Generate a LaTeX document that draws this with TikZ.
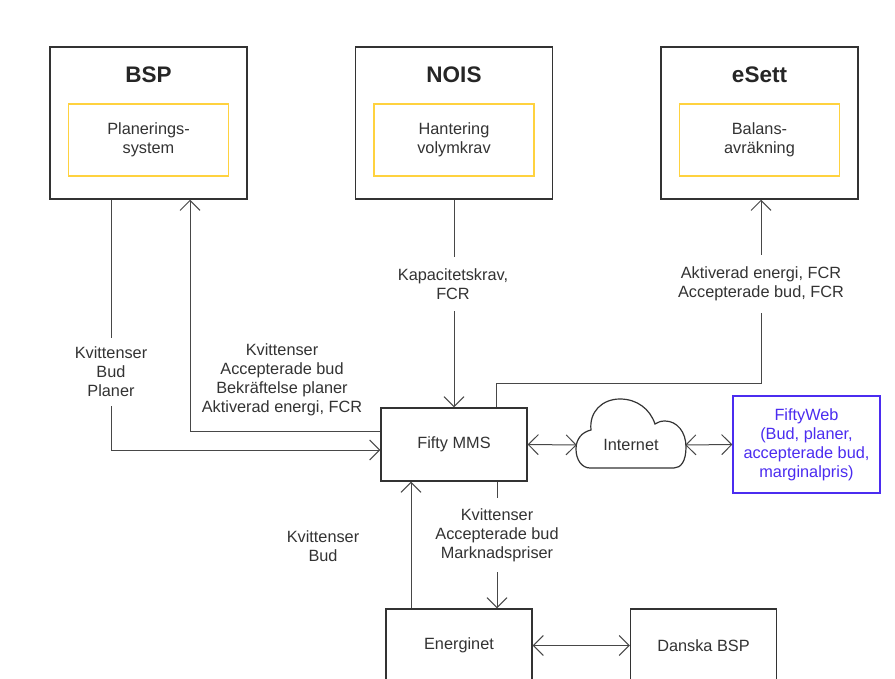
\documentclass[tikz,border=0pt]{standalone}
\usepackage{fontspec}
\setmainfont{Liberation Sans}
\usetikzlibrary{arrows.meta,calc}
\definecolor{ink}{HTML}{333333}
\definecolor{frame}{HTML}{333333}
\definecolor{wire}{HTML}{474747}
\definecolor{gul}{HTML}{FFD23F}
\definecolor{lila}{HTML}{4B2CF0}
\tikzset{
 every node/.style={font=\fontsize{16.3}{19}\selectfont,text=ink,align=center},
 actor/.style={draw=frame,line width=1.5pt,minimum width=197pt,minimum height=152pt,inner sep=0pt},
 sys/.style={draw=gul,line width=1.5pt,minimum width=160pt,minimum height=72pt,inner sep=0pt},
 title/.style={font=\fontsize{22.5}{26}\selectfont\bfseries,text=black!85},
 box/.style={draw=frame,line width=1.2pt,minimum width=146pt,minimum height=73pt,inner sep=0pt},
 wlabel/.style={fill=white,inner xsep=2pt,inner ysep=9pt},
 arr/.style={draw=wire,line width=1pt,-{Straight Barb[length=10pt,width=20pt]}},
 darr/.style={arr,{Straight Barb[length=10pt,width=20pt]}-{Straight Barb[length=10pt,width=20pt]}},
}
\begin{document}
\begin{tikzpicture}[x=1pt,y=-1pt]
\clip (0,0) rectangle (895,679);
\fill[white] (0,0) rectangle (895,679);
\foreach \n/\x/\t/\s in {bsp/148.5/BSP/{Planerings-\\system},
 nois/454/NOIS/{Hantering\\volymkrav},
 esett/759.5/eSett/{Balans-\\avräkning}} {
 \node[actor] (\n) at (\x,123) {};
 \node[title] (\n-t) at (\x,75) {\t};
 \node[sys] (\n-s) at (\x,140) {\s};
}
\node[box] (mms) at (454,444.5) {Fifty MMS};
\node[minimum width=108pt,minimum height=66pt,inner sep=0pt] (inet) at (631,445) {Internet};
\draw[frame,line width=1.2pt] (590,468) -- (674,468)
 .. controls (681,468) and (686,461) .. (686,447)
 .. controls (686,432) and (677,421) .. (665,421)
 .. controls (661,421) and (658,422) .. (655,424)
 .. controls (650,409) and (637,399) .. (620,399)
 .. controls (602,399) and (589,412) .. (591,430)
 .. controls (582,432) and (576,439) .. (576,449)
 .. controls (576,460) and (582,468) .. (590,468) -- cycle;
\node[box,draw=lila,minimum width=147pt,minimum height=97pt,text=lila] (web) at (806.5,444.5)
 {FiftyWeb\\(Bud, planer,\\accepterade bud,\\marginalpris)};
\node[box] (energ) at (459,645.5) {Energinet};
\node[box] (dk) at (703.5,645.5) {Danska BSP};

% BSP <-> Fifty MMS
\draw[arr] ([xshift=-37.5pt]bsp.south) |- ([yshift=-5.5pt]mms.west);
\node[wlabel] (l-bsp) at (111,372) {Kvittenser\\Bud\\Planer};
\draw[arr] ([yshift=13.5pt]mms.west) -| ([xshift=41.5pt]bsp.south);
\node (l-mms) at (282,380) {Kvittenser\\Accepterade bud\\Bekräftelse planer\\Aktiverad energi, FCR};
% NOIS, eSett
\draw[arr] (nois.south) -- (mms.north);
\node[wlabel,inner ysep=12pt] (l-nois) at (453,284) {Kapacitetskrav,\\FCR};
\draw[arr] ([xshift=42pt]mms.north) -- ++(0,-24) -| ([xshift=1.5pt]esett.south);
\node[wlabel,inner ysep=12pt] (l-esett) at (761,284) {Aktiverad energi, FCR\\Accepterade bud, FCR};
% Internet
\draw[darr] (mms.east) -- (inet.west);
\draw[darr] (inet.east) -- (web.west);
% Energinet
\draw[arr] ([xshift=-48pt]energ.north) -- ([xshift=-48pt]energ.north |- mms.south);
\node (l-up) at (323,546) {Kvittenser\\Bud};
\draw[arr] ([xshift=43pt]mms.south) -- ([xshift=43pt]mms.south |- energ.north);
\node[wlabel,inner ysep=10pt] (l-down) at (497,535) {Kvittenser\\Accepterade bud\\Marknadspriser};
\draw[darr] (energ.east) -- (dk.west);
\end{tikzpicture}
\end{document}
